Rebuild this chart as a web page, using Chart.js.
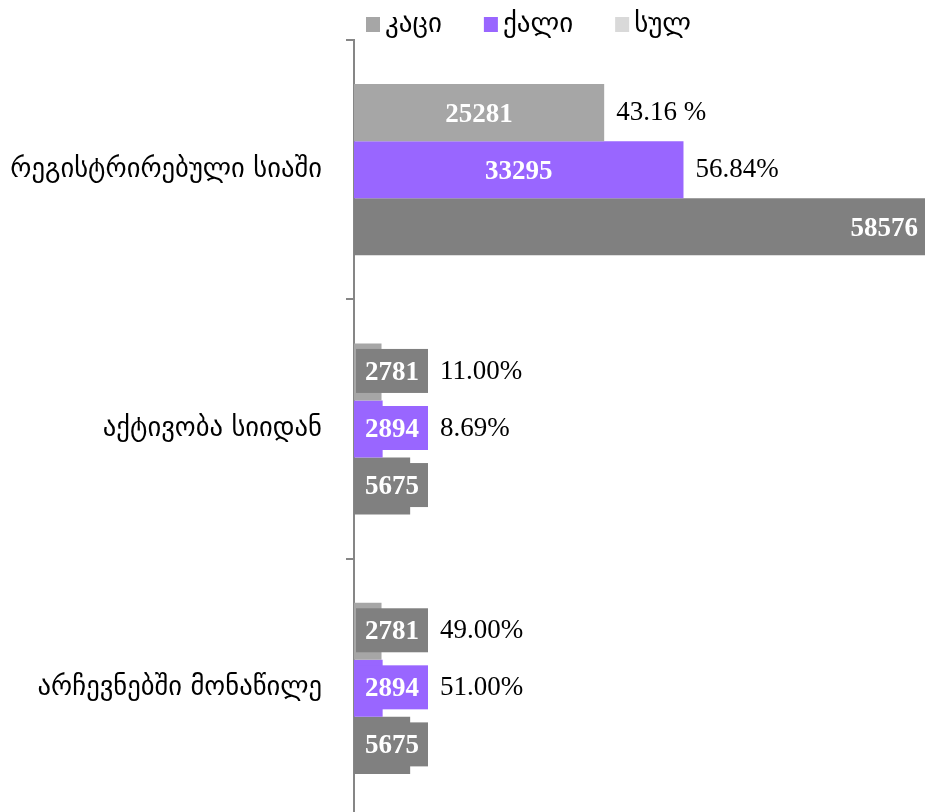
<!DOCTYPE html>
<html>
<head>
<meta charset="utf-8">
<title>chart</title>
<script src="https://cdn.jsdelivr.net/npm/chart.js@4.4.1/dist/chart.umd.min.js"></script>
<style>
    html, body { margin: 0; padding: 0; background: #fff; overflow: hidden; }
    #chart { display: block; }
</style>
</head>
<body>
<canvas id="chart" width="925" height="818"></canvas>
<script>
// Data
const categories = ['რეგისტრირებული სიაში', 'აქტივობა სიიდან', 'არჩევნებში მონაწილე'];
const seriesNames = ['კაცი', 'ქალი', 'სულ'];
const menValues = [25281, 2781, 2781];
const womenValues = [33295, 2894, 2894];
const totalValues = [58576, 5675, 5675];
const menShare = ['43.16 %', '11.00%', '49.00%'];
const womenShare = ['56.84%', '8.69%', '51.00%'];

// Colours
const barColors = ['#a6a6a6', '#9966ff', '#808080'];
const legendColors = ['#a6a6a6', '#9966ff', '#d9d9d9'];
const shares = [menShare, womenShare, null];

const labelFont = 'bold 27px "Liberation Serif"';
const shareFont = '27px "Liberation Serif"';
const georgianFont = '"DejaVu Sans"';

// Legend drawn above the plot area, starting at the axis
const topLegend = {
    id: 'topLegend',
    afterDraw(chart) {
        const ctx = chart.ctx;
        let x = chart.chartArea.left + 12;
        const baseline = 32;
        ctx.save();
        ctx.font = '27px ' + georgianFont;
        ctx.textAlign = 'left';
        ctx.textBaseline = 'alphabetic';
        seriesNames.forEach((name, i) => {
            ctx.fillStyle = legendColors[i];
            ctx.fillRect(x, baseline - 15, 14, 15);
            x += 19;
            ctx.fillStyle = '#000';
            ctx.fillText(name, x, baseline);
            x += ctx.measureText(name).width + 42;
        });
        ctx.restore();
    }
};

// Value labels and percentage shares
const barLabels = {
    id: 'barLabels',
    afterDatasetsDraw(chart) {
        const ctx = chart.ctx;
        const area = chart.chartArea;
        ctx.save();
        ctx.textBaseline = 'middle';
        chart.data.datasets.forEach((ds, di) => {
            const meta = chart.getDatasetMeta(di);
            meta.data.forEach((bar, i) => {
                const value = String(ds.data[i]);
                const left = Math.min(bar.base, bar.x);
                const right = Math.min(Math.max(bar.base, bar.x), area.right);
                ctx.font = labelFont;
                const tw = ctx.measureText(value).width;
                let end = right;
                if (right - left > tw + 20) {
                    ctx.fillStyle = '#fff';
                    if (bar.x > area.right) {
                        ctx.textAlign = 'right';
                        ctx.fillText(value, area.right - 7, bar.y + 2);
                    } else {
                        ctx.textAlign = 'center';
                        ctx.fillText(value, (left + right) / 2, bar.y + 2);
                    }
                } else {
                    // small bars: label sits in a filled box
                    const bw = tw + 18;
                    const bh = 44;
                    const bx = left + 2;
                    ctx.fillStyle = di === 1 ? barColors[1] : barColors[2];
                    ctx.fillRect(bx, bar.y - bh / 2 - 1, bw, bh);
                    ctx.fillStyle = '#fff';
                    ctx.textAlign = 'center';
                    ctx.fillText(value, bx + bw / 2, bar.y + 1);
                    end = Math.max(right, bx + bw);
                }
                if (shares[di]) {
                    ctx.font = shareFont;
                    ctx.fillStyle = '#000';
                    ctx.textAlign = 'left';
                    ctx.fillText(shares[di][i], end + 12, bar.y);
                }
            });
        });
        ctx.restore();
    }
};

const ctx = document.getElementById('chart').getContext('2d');
new Chart(ctx, {
    type: 'bar',
    data: {
        labels: categories,
        datasets: [
            { label: seriesNames[0], data: menValues, backgroundColor: barColors[0] },
            { label: seriesNames[1], data: womenValues, backgroundColor: barColors[1] },
            { label: seriesNames[2], data: totalValues, backgroundColor: barColors[2] }
        ]
    },
    options: {
        indexAxis: 'y',
        responsive: false,
        animation: false,
        layout: { padding: { top: 40, left: 0, right: 0, bottom: 0 } },
        datasets: { bar: { barPercentage: 1, categoryPercentage: 0.66 } },
        plugins: {
            legend: { display: false },
            tooltip: { enabled: false }
        },
        scales: {
            x: {
                display: false,
                min: 0,
                max: 57700
            },
            y: {
                afterFit(scale) {
                    // axis line sits at x = 354, no extra room above/below
                    scale.width = 354;
                    scale.paddingTop = 0;
                    scale.paddingBottom = 0;
                },
                grid: {
                    drawOnChartArea: false,
                    drawTicks: true,
                    tickLength: 8,
                    color: '#868686',
                    lineWidth: 2
                },
                border: { color: '#868686', width: 2 },
                ticks: {
                    color: '#000',
                    padding: 24,
                    font: { family: georgianFont, size: 26.6 }
                }
            }
        }
    },
    plugins: [barLabels, topLegend]
});
</script>
</body>
</html>
